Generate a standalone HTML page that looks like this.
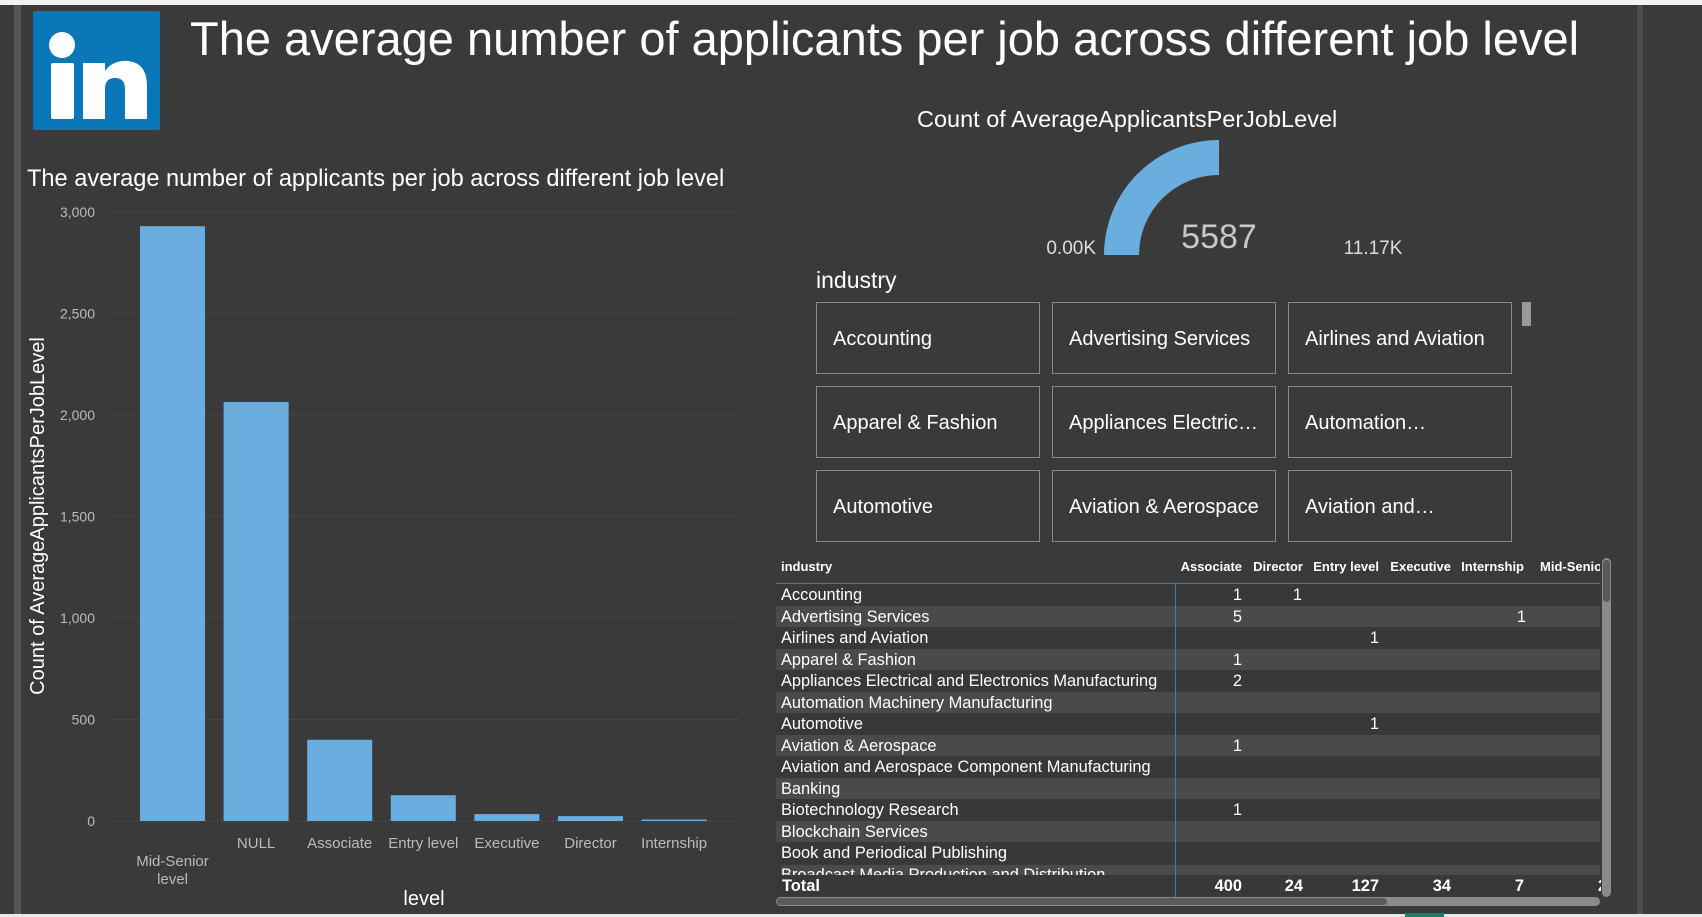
<!DOCTYPE html>
<html><head><meta charset="utf-8">
<style>
html,body{margin:0;padding:0;}
body{width:1702px;height:917px;background:#3a3a3a;position:relative;overflow:hidden;font-family:"Liberation Sans",sans-serif;color:#fff;}
.abs{position:absolute;}
.slicer{position:absolute;width:224px;height:72px;border:1px solid #8a8a8a;box-sizing:border-box;font-size:20px;line-height:72px;padding-left:16px;white-space:nowrap;overflow:hidden;}
.tcell{position:absolute;font-size:16.4px;white-space:nowrap;}
</style></head><body>
<div class="abs" style="left:0;top:0;width:1702px;height:5px;background:#f2f2f2"></div>
<div class="abs" style="left:14px;top:5px;width:7px;height:912px;background:#555"></div>
<div class="abs" style="left:1637px;top:5px;width:6px;height:912px;background:#4e4e4e"></div>
<div class="abs" style="left:0;top:914px;width:1702px;height:3px;background:#e8e8e8"></div>
<div class="abs" style="left:1405px;top:913px;width:39px;height:4px;background:#1a7f64"></div>

<svg class="abs" style="left:33px;top:11px" width="127" height="119" viewBox="0 0 127 119">
<rect width="127" height="119" rx="2" fill="#0a77b8"/>
<circle cx="29" cy="34" r="13" fill="#fff"/>
<rect x="18" y="52" width="23" height="56" rx="2" fill="#fff"/>
<path d="M50 108 V52 H72 V60 Q80 49 95 50 Q114 52 114 75 V108 H92 V78 Q92 67 82 67 Q72 67 72 78 V108 Z" fill="#fff"/>
</svg>
<div class="abs" style="left:190px;top:11px;font-size:47px;white-space:nowrap">The average number of applicants per job across different job level</div>

<div class="abs" style="left:27px;top:166px;font-size:23.6px;white-space:nowrap">The average number of applicants per job across different job level</div>
<svg class="abs" id="bar" style="left:0;top:190px" width="760" height="727"></svg>

<div class="abs" style="left:917px;top:106px;font-size:23.5px;white-space:nowrap">Count of AverageApplicantsPerJobLevel</div>
<svg class="abs" id="gauge" style="left:1000px;top:130px" width="450" height="150"></svg>

<div class="abs" style="left:816px;top:267px;font-size:23px">industry</div>
<div id="slicers"></div>
<div class="abs" style="left:1522px;top:302px;width:9px;height:24px;background:#9a9a9a"></div>

<div id="table"></div>

<script>
const levels=["Mid-Senior level","NULL","Associate","Entry level","Executive","Director","Internship"];
const counts=[2930,2064,400,127,34,24,7];
const yTicks=[0,500,1000,1500,2000,2500,3000];

const NS="http://www.w3.org/2000/svg";
function mk(p,t,a){const e=document.createElementNS(NS,t);for(const k in a)e.setAttribute(k,a[k]);p.appendChild(e);return e;}
const svg=document.getElementById('bar');
const y0=631,yTop=22,plotL=109,plotR=741;
const y=v=>y0-(v/3000)*(y0-yTop);
const step=83.6,bw=65,x=i=>140+i*step;
yTicks.forEach(t=>{
  const l=mk(svg,'line',{x1:plotL,x2:plotR,y1:y(t),y2:y(t),stroke:'#666','stroke-dasharray':'1,3'});
  
  
  const tx=mk(svg,'text',{x:95,y:y(t)+5,'text-anchor':'end',fill:'#bbb','font-size':14});
  tx.textContent=t.toLocaleString('en-US');
  
  
});
counts.forEach((v,i)=>{
  const r=mk(svg,'rect',{x:x(i),y:y(v),width:bw,height:y0-y(v),fill:'#6aaee0'});
  
  
  const cx=x(i)+bw/2;
  const lab=levels[i];
  if(i===0){
    ['Mid-Senior','level'].forEach((w,k)=>{const t=mk(svg,'text',{x:cx,y:676+k*18,'text-anchor':'middle',fill:'#bbb','font-size':15});t.textContent=w;
      
      });
  } else {
    const t=mk(svg,'text',{x:cx,y:658,'text-anchor':'middle',fill:'#bbb','font-size':15});t.textContent=lab;
    
    
  }
});
const xt=mk(svg,'text',{x:424,y:715,'text-anchor':'middle',fill:'#fff','font-size':20});xt.textContent='level';


const yt=mk(svg,'text',{x:0,y:0,'text-anchor':'middle',fill:'#fff','font-size':20,transform:'translate(44,326) rotate(-90)'});yt.textContent='Count of AverageApplicantsPerJobLevel';



// gauge
const gaugeVal=[5587], gaugeMax=[11170];
const g=document.getElementById('gauge');
const gcx=219,gcy=125,R=115,r=80;
const frac=gaugeVal[0]/gaugeMax[0];
const a=Math.PI*(1-frac);
const px=(rad,ang)=>[gcx+rad*Math.cos(ang),gcy-rad*Math.sin(ang)];
const [ox,oy]=px(R,a),[ix,iy]=px(r,a);
const arc=mk(g,'path',{d:`M${gcx-R},${gcy} A${R},${R} 0 0 1 ${ox},${oy} L${ix},${iy} A${r},${r} 0 0 0 ${gcx-r},${gcy} Z`,fill:'#6aaee0'});


[[ '0.00K',96,124,19,'end'],[String(gaugeVal[0]),219,118,34,'middle'],[(gaugeMax[0]/1000).toFixed(2)+'K',373,124,19,'middle']].forEach(([s,xx,yy,fs,an],k)=>{
  const t=mk(g,'text',{x:xx,y:yy,'text-anchor':an,fill:k===1?'#c8c8c8':'#ddd','font-size':fs});t.textContent=s;
  
  
});

// slicers
const sl=["Accounting","Advertising Services","Airlines and Aviation","Apparel & Fashion","Appliances Electric…","Automation…","Automotive","Aviation & Aerospace","Aviation and…"];
const sc=document.getElementById('slicers');
sl.forEach((s,i)=>{
  const d=document.createElement('div');d.className='slicer';
  d.style.left=(816+(i%3)*236)+'px';d.style.top=(302+Math.floor(i/3)*84)+'px';
  d.textContent=s;
  
  
  sc.appendChild(d);
});

// table
const inds=["Accounting","Advertising Services","Airlines and Aviation","Apparel & Fashion","Appliances Electrical and Electronics Manufacturing","Automation Machinery Manufacturing","Automotive","Aviation & Aerospace","Aviation and Aerospace Component Manufacturing","Banking","Biotechnology Research","Blockchain Services","Book and Periodical Publishing"];
const cols=["Associate","Director","Entry level","Executive","Internship","Mid-Senior"];
const colR=[1242,1303,1379,1451,1524,1600];
const vals=[["1","1","","","",""],["5","","","","1",""],["","","1","","",""],["1","","","","",""],["2","","","","",""],["","","","","",""],["","","1","","",""],["1","","","","",""],["","","","","",""],["","","","","",""],["1","","","","",""],["","","","","",""],["","","","","",""]];
const totals=["400","24","127","34","7","2"];
const T=document.getElementById('table');
function add(html,style,name,inter){const d=document.createElement('div');d.className='tcell';d.style.cssText=style;d.innerHTML=html;T.appendChild(d);return d;}
add('industry','left:781px;top:559px;font-size:13px;font-weight:bold','header-industry',true);
cols.forEach((c,i)=>add(c,`left:${colR[i]-80}px;width:80px;text-align:right;top:559px;font-size:13px;font-weight:bold;`+(i==5?'width:60px;left:1540px;overflow:hidden;text-align:left;':''),'header-'+c.toLowerCase().replace(/ /g,'-'),true));
const rh=21.5,r0=584;
inds.forEach((n,i)=>{
  add('',`left:776px;top:${r0+i*rh}px;width:824px;height:${rh}px;background:${i%2?'#4a4a4a':'#383838'}`,'row-bg',false);
  add(n,`left:781px;top:${r0+i*rh+1}px;line-height:${rh}px`,'row-label',false);
  vals[i].forEach((v,k)=>{if(v)add(v,`left:${[1242,1302,1379,1450,1526,1595][k]-20}px;width:20px;text-align:right;top:${r0+i*rh+1}px;line-height:${rh}px`,'cell-value',false);});
});
add('Broadcast Media Production and Distribution',`left:781px;top:${r0+13*rh+1}px;line-height:${rh}px;height:11px;overflow:hidden;background:#4a4a4a;width:819px`,'row-label',false);
add('',`left:776px;top:875px;width:824px;height:22px;background:#383838`,'total-row-bg',false);
add('Total','left:782px;top:876px;font-weight:bold;line-height:20px','total-label',false);
totals.forEach((v,k)=>add(v,`left:${[1242,1303,1379,1451,1524,1598][k]-(k==5?0:50)}px;width:${k==5?3:50}px;overflow:hidden;text-align:${k==5?'left':'right'};top:876px;font-weight:bold;line-height:20px`,'total-value',false));
add('','left:776px;top:583px;width:824px;height:1px;background:#2f7fc1','header-rule',false);
add('','left:1175px;top:584px;width:1px;height:313px;background:#2f7fc1','column-rule',false);
add('','left:776px;top:897px;width:824px;height:9px;background:#8a8a8a;border-radius:5px','h-scrollbar',true);
add('','left:777px;top:898px;width:610px;height:7px;background:#5a5a5a;border-radius:4px','h-scroll-thumb',true);
add('','left:1602px;top:558px;width:9px;height:339px;background:#8a8a8a;border-radius:5px','v-scrollbar',true);
add('','left:1603px;top:560px;width:7px;height:42px;background:#5a5a5a;border-radius:4px','v-scroll-thumb',true);
</script>
</body></html>
